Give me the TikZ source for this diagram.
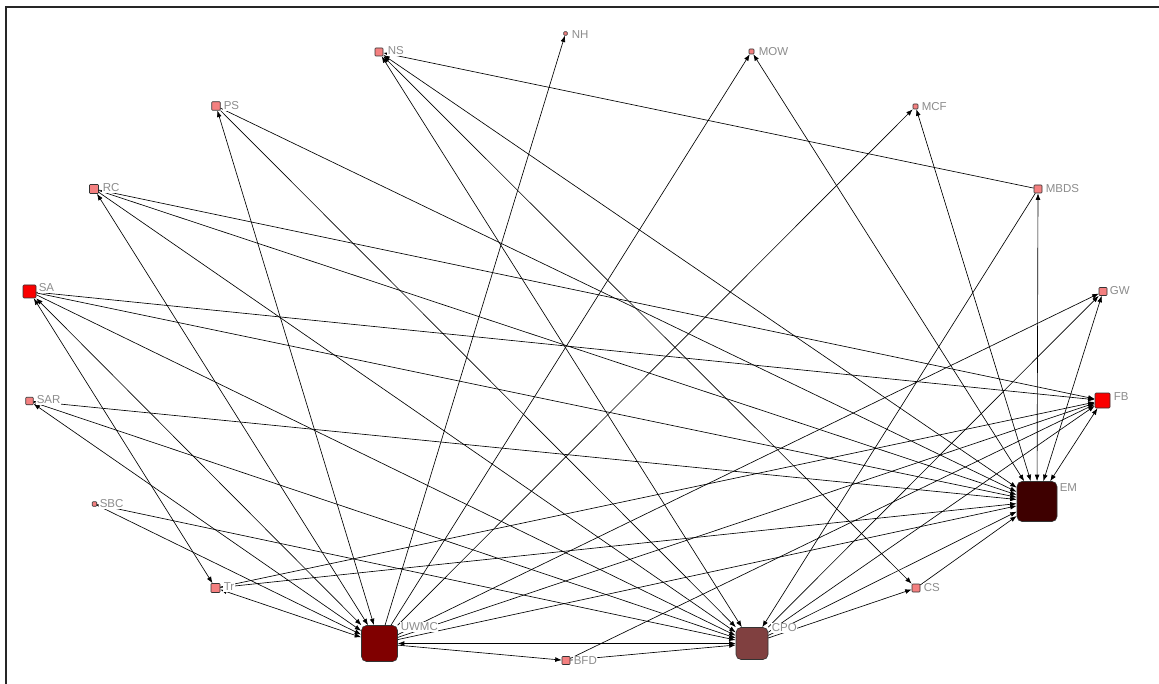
\documentclass[tikz,border=0pt]{standalone}
\usepackage{fontspec}
\setmainfont{Liberation Sans}
\usetikzlibrary{arrows.meta}

\definecolor{pinknode}{RGB}{244,128,128}
\definecolor{rednode}{RGB}{250,0,0}
\definecolor{uwmccol}{RGB}{128,0,0}
\definecolor{cpocol}{RGB}{128,64,64}
\definecolor{emcol}{RGB}{62,0,0}
\definecolor{labelgray}{RGB}{140,140,140}

\tikzset{
  actor/.style={draw=black!80, line width=0.6pt, rectangle, inner sep=0pt},
  small/.style={actor, fill=pinknode, rounded corners=0.8pt, minimum size=#1},
  redbox/.style={actor, fill=rednode, rounded corners=1pt, minimum size=#1},
  hub/.style={actor, rounded corners=5pt, minimum size=#1},
  lbl/.style={text=labelgray, fill=white, font=\fontsize{11.5}{12}\selectfont, inner sep=0.6pt, anchor=west},
  tie/.style={line width=0.65pt, black},
  arr/.style={tie, -{Latex[length=6.5pt,width=4.8pt]}},
  both/.style={tie, {Latex[length=6.5pt,width=4.8pt]}-{Latex[length=6.5pt,width=4.8pt]}}
}

\begin{document}
\begin{tikzpicture}[x=1pt,y=-1pt]
\useasboundingbox (0,0) rectangle (1159,684);
\fill[white] (0,0) rectangle (1159,684);
% frame edges
\draw[line width=1.6pt, black!85] (6,690) -- (6,7) -- (1165,7);

% actors
\node[small=8pt]  (NS)   at (379,52)    {};
\node[small=3.5pt](NH)   at (565.5,33.5){};
\node[small=5pt]  (MOW)  at (751.5,51.5){};
\node[small=8.5pt](PS)   at (216,106)   {};
\node[small=5pt]  (MCF)  at (915.5,106.5){};
\node[small=9pt]  (RC)   at (94,189)    {};
\node[small=8pt]  (MBDS) at (1038,189)  {};
\node[redbox=13pt](SA)   at (29.5,291.5){};
\node[small=8pt]  (GW)   at (1103,291.5){};
\node[small=7.5pt](SAR)  at (29.5,401)  {};
\node[redbox=15pt](FB)   at (1102.5,400.5){};
\node[small=4.5pt](SBC)  at (94.5,504)  {};
\node[hub=40pt, fill=emcol]   (EM)   at (1037,501.5){};
\node[small=9pt]  (Tr)   at (215.5,588) {};
\node[small=8pt]  (CS)   at (916,588)   {};
\node[hub=36pt, fill=uwmccol] (UWMC) at (379.5,643.5){};
\node[hub=32pt, fill=cpocol]  (CPO)  at (752,643.5){};
\node[small=8pt]  (BFD)  at (566,660.5) {};

% ties
\draw[arr]  (MBDS) -- (NS);
\draw[both] (NS) -- (EM);
\draw[both] (NS) -- (CPO);
\draw[both] (NS) -- (CS);
\draw[arr]  (UWMC) -- (NH);
\draw[arr]  (UWMC) -- (MOW);
\draw[both] (EM) -- (MOW);
\draw[both] (UWMC) -- (PS);
\draw[arr]  (PS) -- (CPO);
\draw[arr]  (PS) -- (EM);
\draw[arr]  (UWMC) -- (MCF);
\draw[both] (EM) -- (MCF);
\draw[both] (UWMC) -- (RC);
\draw[arr]  (RC) -- (CPO);
\draw[arr]  (RC) -- (EM);
\draw[arr]  (RC) -- (FB);
\draw[both] (EM) -- (MBDS);
\draw[arr]  (MBDS) -- (CPO);
\draw[both] (Tr) -- (SA);
\draw[both] (UWMC) -- (SA);
\draw[arr]  (SA) -- (CPO);
\draw[arr]  (SA) -- (EM);
\draw[arr]  (SA) -- (FB);
\draw[arr]  (UWMC) -- (GW);
\draw[arr]  (CPO) -- (GW);
\draw[both] (EM) -- (GW);
\draw[both] (UWMC) -- (SAR);
\draw[arr]  (SAR) -- (CPO);
\draw[arr]  (SAR) -- (EM);
\draw[arr]  (Tr) -- (FB);
\draw[arr]  (UWMC) -- (FB);
\draw[arr]  (CPO) -- (FB);
\draw[both] (EM) -- (FB);
\draw[arr]  (BFD) -- (FB);
\draw[arr]  (SBC) -- (UWMC);
\draw[arr]  (SBC) -- (CPO);
\draw[both] (Tr) -- (UWMC);
\draw[arr]  (Tr) -- (EM);
\draw[arr]  (CS) -- (EM);
\draw[arr]  (CPO) -- (CS);
\draw[both] (UWMC) -- (CPO);
\draw[arr]  (UWMC) -- (BFD);
\draw[arr]  (BFD) -- (CPO);
\draw[arr]  (UWMC) -- (EM);
\draw[arr]  (CPO) -- (EM);

% labels, set over the ties
\node[lbl] (NSl)   at (387,51)   {NS};
\node[lbl] (NHl)   at (571,35)   {NH};
\node[lbl] (MOWl)  at (758,52)   {MOW};
\node[lbl] (PSl)   at (223,106)  {PS};
\node[lbl] (MCFl)  at (921,107)  {MCF};
\node[lbl] (RCl)   at (102,188)  {RC};
\node[lbl] (MBDSl) at (1045,189) {MBDS};
\node[lbl] (SAl)   at (38,288)   {SA};
\node[lbl] (GWl)   at (1109,291) {GW};
\node[lbl] (SARl)  at (36,400)   {SAR};
\node[lbl] (FBl)   at (1113,397) {FB};
\node[lbl] (SBCl)  at (99,504)   {SBC};
\node[lbl] (EMl)   at (1059,488) {EM};
\node[lbl] (Trl)   at (223,587)  {Tr};
\node[lbl] (CSl)   at (923,588)  {CS};
\node[lbl] (UWMCl) at (400,627)  {UWMC};
\node[lbl] (CPOl)  at (771,628)  {CPO};
\node[lbl] (BFDl)  at (573,661)  {BFD};
\end{tikzpicture}
\end{document}
